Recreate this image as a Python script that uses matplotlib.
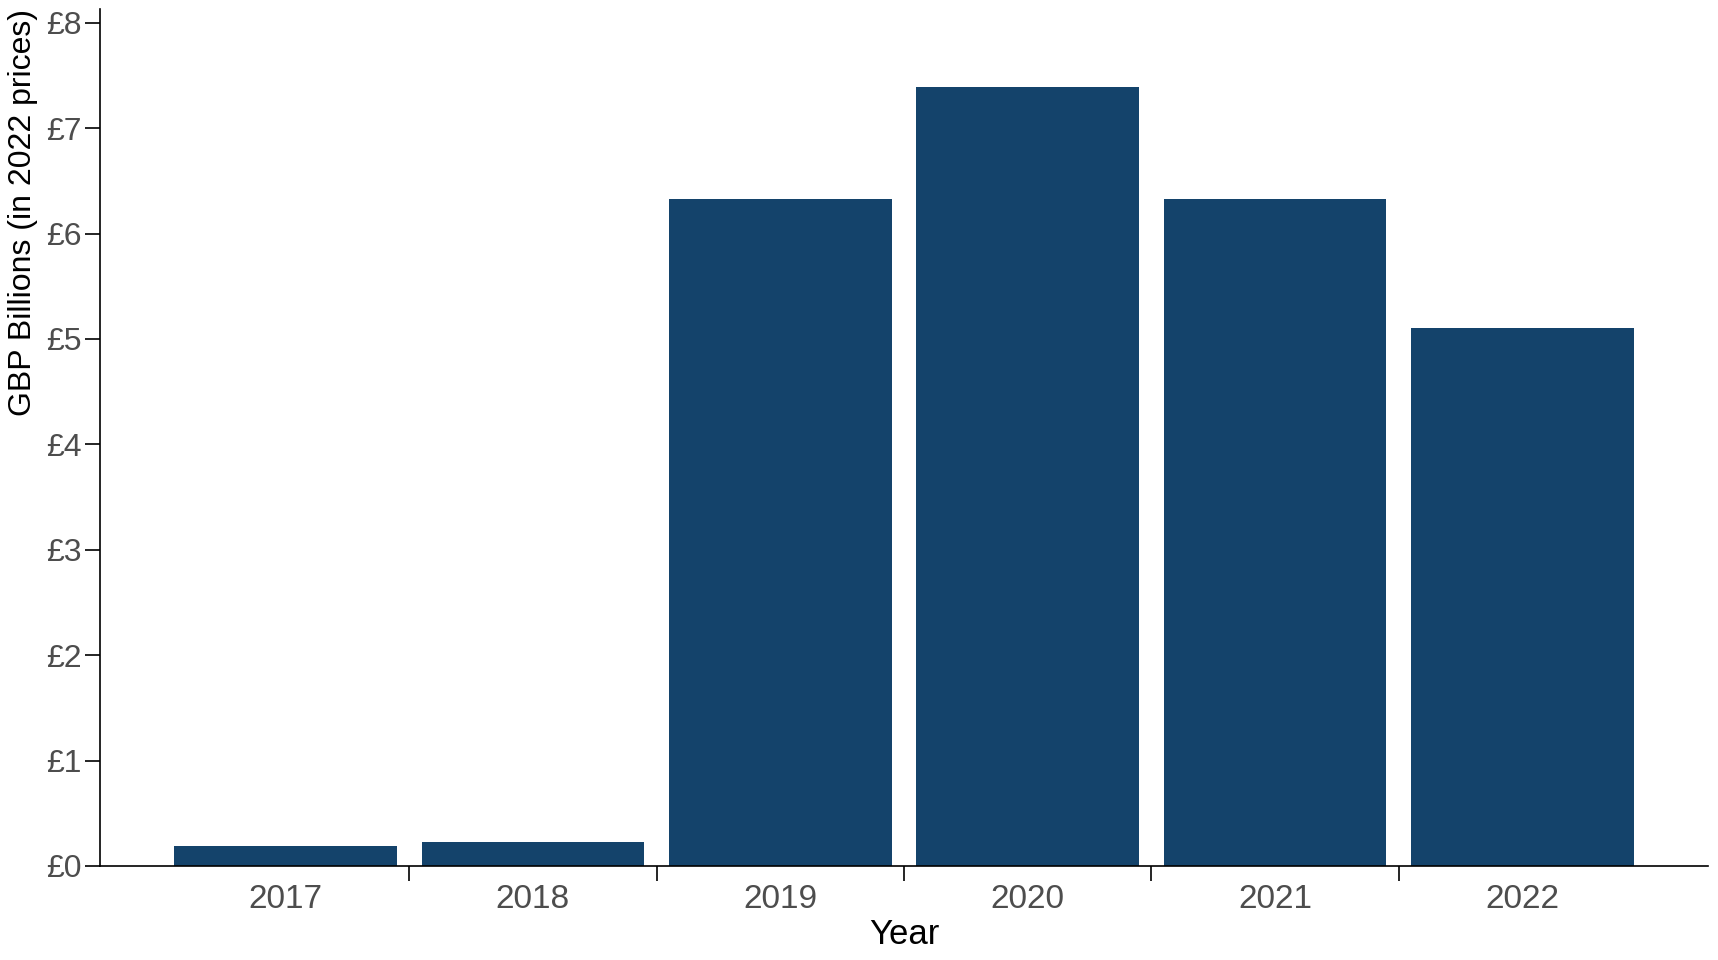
import numpy as np
import matplotlib.pyplot as plt
from matplotlib.ticker import FuncFormatter

years = ['2017', '2018', '2019', '2020', '2021', '2022']
values = [0.19, 0.23, 6.33, 7.39, 6.33, 5.10]

plt.rcParams['font.family'] = ['Liberation Sans', 'DejaVu Sans']

fig = plt.figure(figsize=(17.18, 9.6), dpi=100)
ax = fig.add_axes([0.0582, 0.098, 0.9360, 0.8926])

x = np.arange(len(years))
ax.bar(x, values, width=0.9, color='#14436b', zorder=2)

ax.set_xlim(-0.75, len(years) - 0.25)
ax.set_ylim(0, 8.13)

# labels at bar centres, tick marks between bars
ax.set_xticks(x)
ax.set_xticklabels(years)
ax.set_xticks(x[:-1] + 0.5, minor=True)
ax.tick_params(axis='x', which='major', length=0, pad=13, labelsize=24, labelcolor='#4d4d4d')
ax.tick_params(axis='x', which='minor', length=11, width=1.2, color='black')

ax.set_yticks(range(0, 9))
ax.yaxis.set_major_formatter(FuncFormatter(lambda v, p: '£%d' % v))
ax.tick_params(axis='y', length=11, width=1.2, pad=2, labelsize=23, labelcolor='#4d4d4d')

for s in ['top', 'right']:
    ax.spines[s].set_visible(False)
for s in ['left', 'bottom']:
    ax.spines[s].set_linewidth(1.2)

ax.set_xlabel('Year', fontsize=25, labelpad=2)
ax.set_ylabel('GBP Billions (in 2022 prices)', fontsize=23, labelpad=6, loc='top')

fig.savefig('out.png', dpi=100)
